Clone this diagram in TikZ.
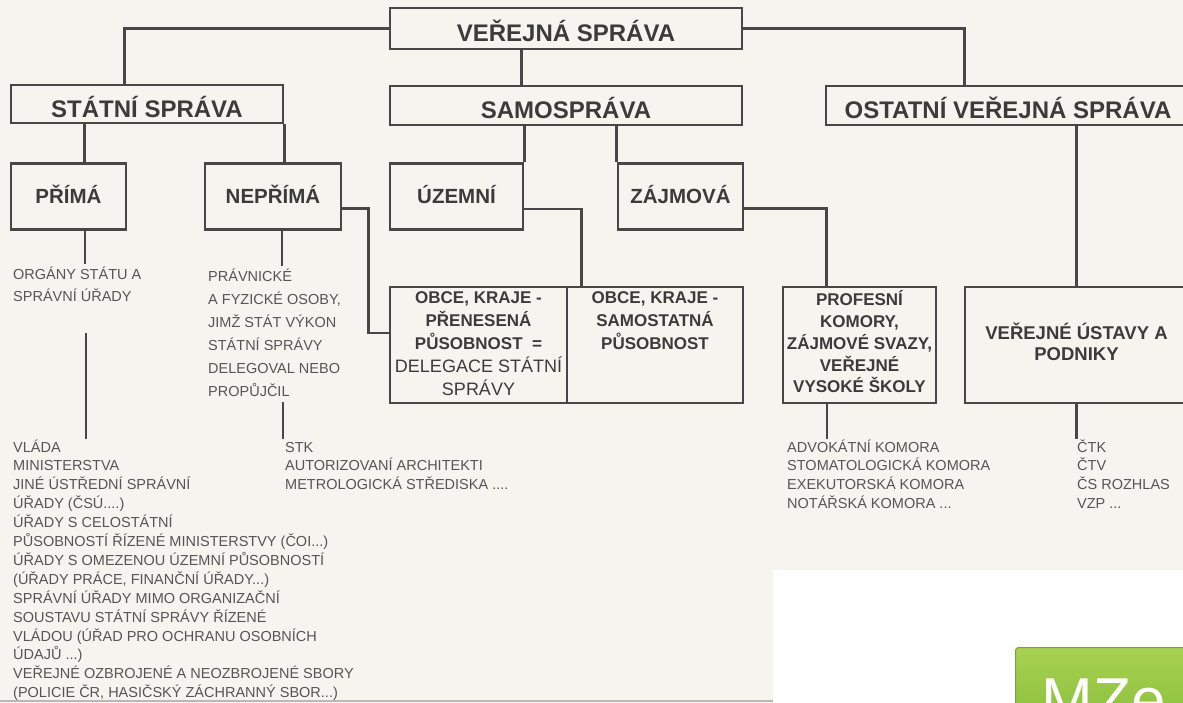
\documentclass[tikz,border=0pt]{standalone}
\usepackage{fontspec}
\setmainfont{Liberation Sans}
\usetikzlibrary{calc}
\definecolor{bg}{HTML}{F5F4EF}
\definecolor{ln}{HTML}{474747}
\definecolor{tx}{HTML}{3B3B3B}
\definecolor{sm}{HTML}{555555}
\definecolor{gtop}{HTML}{A8D152}
\definecolor{gbot}{HTML}{7FB833}
\definecolor{gedge}{HTML}{7F9F35}
\newcommand{\cblock}[1]{\begin{tabular}{@{}c@{}}#1\end{tabular}}
\newcommand{\lblock}[1]{\begin{tabular}[t]{@{}l@{}}#1\end{tabular}}
\begin{document}
\begin{tikzpicture}[x=1pt,y=-1pt,
  box/.style={draw=ln, line width=2.4pt, rectangle, inner sep=0pt, text=tx},
  conn/.style={draw=ln, line width=2.8pt},
  thin/.style={draw=ln, line width=2.4pt},
  small/.style={inner sep=0pt, anchor=base west, text=sm, font=\fontsize{14.5}{18.9}\selectfont},
  big/.style={font=\bfseries\fontsize{24}{28}\selectfont, text height=27pt, text depth=0pt},
  mid/.style={font=\bfseries\fontsize{20.5}{24}\selectfont, text height=14pt, text depth=0pt},
  low/.style={font=\bfseries\fontsize{17}{22.7}\selectfont},
]
\useasboundingbox (0,0) rectangle (1183,703);
\clip (0,0) rectangle (1183,703);
\fill[bg] (0,0) rectangle (1183,703);

% top levels
\node[box,big,minimum width=352pt,minimum height=41pt] (vs) at (566,28.5) {VEŘEJNÁ SPRÁVA};
\node[box,big,minimum width=272pt,minimum height=38pt] (statni) at (147,104) {STÁTNÍ SPRÁVA};
\node[box,big,minimum width=352pt,minimum height=39pt] (samo) at (566,105.5) {SAMOSPRÁVA};
\node[box,big,minimum width=364pt,minimum height=39pt] (ostatni) at (1008,105.5) {OSTATNÍ VEŘEJNÁ SPRÁVA};

% second row
\node[box,mid,minimum width=115pt,minimum height=66pt] (prima) at (68.5,196.5) {PŘÍMÁ};
\node[box,mid,minimum width=136pt,minimum height=66pt] (neprima) at (273,196.5) {NEPŘÍMÁ};
\node[box,mid,minimum width=133pt,minimum height=66pt] (uzemni) at (456.5,196.5) {ÚZEMNÍ};
\node[box,mid,minimum width=125pt,minimum height=66pt] (zajmova) at (680.5,196.5) {ZÁJMOVÁ};

% third row
\node[box,low,minimum width=177pt,minimum height=116pt] (obce1) at (478.5,345)
  {\cblock{OBCE, KRAJE -\\ PŘENESENÁ\\ PŮSOBNOST\ \ =\\ {\mdseries\fontsize{18}{22.7}\selectfont DELEGACE STÁTNÍ}\\ {\mdseries\fontsize{18}{22.7}\selectfont SPRÁVY}}};
\node[box,low,minimum width=176pt,minimum height=116pt] (obce2) at (655,345)
  {\cblock{OBCE, KRAJE -\\ SAMOSTATNÁ\\ PŮSOBNOST\\ ~\\ ~}};
\node[box,font=\bfseries\fontsize{17}{21.8}\selectfont,minimum width=153pt,minimum height=116pt] (profesni) at (859.5,345)
  {\cblock{PROFESNÍ\\ KOMORY,\\ ZÁJMOVÉ SVAZY,\\ VEŘEJNÉ\\ VYSOKÉ ŠKOLY}};
\node[box,font=\bfseries\fontsize{18.5}{21}\selectfont,minimum width=223pt,minimum height=116pt] (ustavy) at (1076.5,345)
  {\cblock{VEŘEJNÉ ÚSTAVY A\\ PODNIKY}};

% small texts
\node[small,font=\fontsize{14.5}{22.5}\selectfont] (organy) at (13,279.5)
  {\lblock{ORGÁNY STÁTU A\\ SPRÁVNÍ ÚŘADY}};
\node[small,font=\fontsize{14.5}{22.9}\selectfont] (pravnicke) at (208,282)
  {\lblock{PRÁVNICKÉ\\ A FYZICKÉ OSOBY,\\ JIMŽ STÁT VÝKON\\ STÁTNÍ SPRÁVY\\ DELEGOVAL NEBO\\ PROPŮJČIL}};
\node[small] (vlada) at (13,452)
  {\lblock{VLÁDA\\ MINISTERSTVA\\ JINÉ ÚSTŘEDNÍ SPRÁVNÍ\\ ÚŘADY (ČSÚ....)\\ ÚŘADY S CELOSTÁTNÍ\\ PŮSOBNOSTÍ ŘÍZENÉ MINISTERSTVY (ČOI...)\\ ÚŘADY S OMEZENOU ÚZEMNÍ PŮSOBNOSTÍ\\ (ÚŘADY PRÁCE, FINANČNÍ ÚŘADY...)\\ SPRÁVNÍ ÚŘADY MIMO ORGANIZAČNÍ\\ SOUSTAVU STÁTNÍ SPRÁVY ŘÍZENÉ\\ VLÁDOU (ÚŘAD PRO OCHRANU OSOBNÍCH\\ ÚDAJŮ ...)\\ VEŘEJNÉ OZBROJENÉ A NEOZBROJENÉ SBORY\\ (POLICIE ČR, HASIČSKÝ ZÁCHRANNÝ SBOR...)}};
\node[small] (stk) at (285,452)
  {\lblock{STK\\ AUTORIZOVANÍ ARCHITEKTI\\ METROLOGICKÁ STŘEDISKA ....}};
\node[small] (advokat) at (787,452)
  {\lblock{ADVOKÁTNÍ KOMORA\\ STOMATOLOGICKÁ KOMORA\\ EXEKUTORSKÁ KOMORA\\ NOTÁŘSKÁ KOMORA ...}};
\node[small] (ctk) at (1077,452)
  {\lblock{ČTK\\ ČTV\\ ČS ROZHLAS\\ VZP ...}};

% connectors
\draw[conn] (vs.west) -| ([xshift=115pt]statni.north west);
\draw[conn] (vs.east) -| ([xshift=140pt]ostatni.north west);
\draw[conn] ([xshift=133pt]vs.south west) -- ([xshift=133pt]samo.north west);
\draw[conn] ([xshift=75pt]statni.south west) -- ([xshift=75pt]prima.north west);
\draw[conn] (statni.south east) -- (statni.south east |- neprima.north);
\draw[conn] (uzemni.north east |- samo.south) -- (uzemni.north east);
\draw[conn] (zajmova.north west |- samo.south) -- (zajmova.north west);
\draw[conn] (ustavy.north |- ostatni.south) -- (ustavy.north);
\draw[conn] ([yshift=-12pt]neprima.east) -- ++(26,0) |- ([yshift=12pt]obce1.west);
\draw[conn] ([yshift=-12.5pt]uzemni.east) -| ([xshift=13pt]obce1.north east);
\draw[conn] ([yshift=-12pt]zajmova.east) -| ([xshift=45pt]profesni.north west);

% down lines to texts
\coordinate (pa) at (86,333);
\draw[thin] ([xshift=75pt]prima.south west) -- ([xshift=75pt]prima.south west |- organy.north);
\draw[thin] (pa) -- (pa |- vlada.north);
\draw[thin] ([xshift=78pt]neprima.south west) -- ([xshift=78pt]neprima.south west |- pravnicke.north);
\coordinate (pb) at (283,402);
\draw[thin] (pb) -- (pb |- stk.north);
\draw[thin] ([xshift=45pt]profesni.south west) -- ([xshift=45pt]profesni.south west |- advokat.north);
\draw[thin] (ustavy.south) -- (ustavy.south |- ctk.north);

% page edge and overlay
\draw[gray!55, line width=1.2pt] (0,701) -- (773,701);
\fill[white] (773,570) rectangle (1183,703);
\node[draw=gedge, line width=1pt, rounded corners=3pt, top color=gtop, bottom color=gbot,
  minimum width=176pt, minimum height=106pt, anchor=north west, inner sep=0pt,
  text=white, font=\fontsize{62}{62}\selectfont] (mze) at (1015,647) {MZe};
\end{tikzpicture}
\end{document}
